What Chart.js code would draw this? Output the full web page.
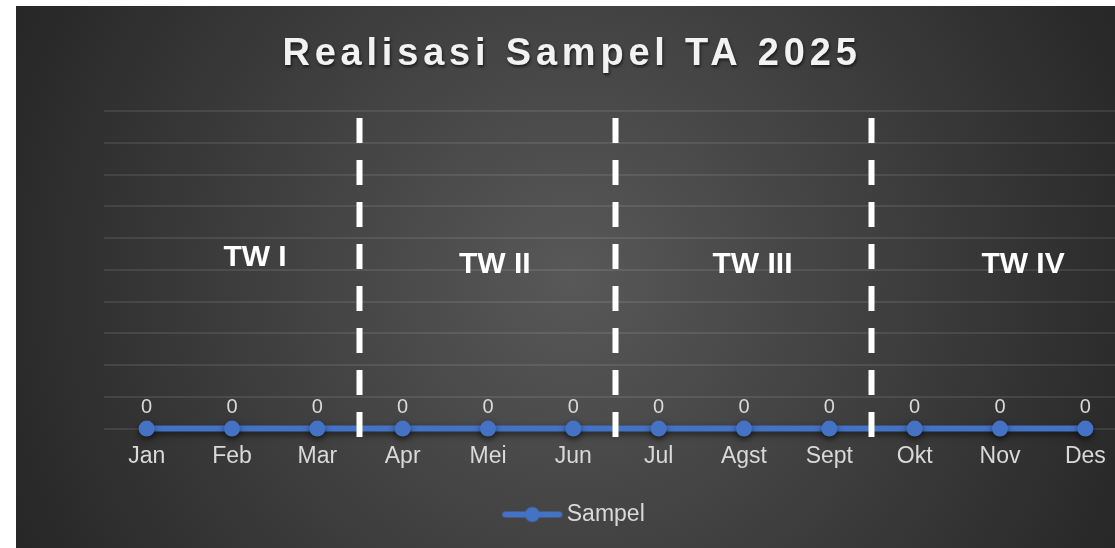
<!DOCTYPE html>
<html>
<head>
<meta charset="utf-8">
<script src="https://cdn.jsdelivr.net/npm/chart.js@4.4.1/dist/chart.umd.min.js"></script>
<style>
    html, body { margin: 0; padding: 0; background: #fff; overflow: hidden; width: 1115px; height: 548px; }
    #wrap { position: absolute; left: 16px; top: 6px; }
</style>
</head>
<body>
<div id="wrap"><canvas id="chart" width="1112" height="542"></canvas></div>
<script>
// data
const months = ['Jan', 'Feb', 'Mar', 'Apr', 'Mei', 'Jun', 'Jul', 'Agst', 'Sept', 'Okt', 'Nov', 'Des'];
const sampel = [0, 0, 0, 0, 0, 0, 0, 0, 0, 0, 0, 0];
const quarters = ['TW I', 'TW II', 'TW III', 'TW IV'];
const yMax = 10;

const lineBlue = '#4472c4';
const textGrey = '#d9d9d9';
const fontFam = '"Liberation Sans", Arial, sans-serif';

// legend marker: line with a dot in the middle
const legendMark = document.createElement('canvas');
legendMark.width = 70;
legendMark.height = 18;
(() => {
    const c = legendMark.getContext('2d');
    c.strokeStyle = lineBlue;
    c.lineWidth = 6;
    c.lineCap = 'round';
    c.beginPath();
    c.moveTo(8, 9);
    c.lineTo(62, 9);
    c.stroke();
    c.fillStyle = lineBlue;
    c.beginPath();
    c.arc(35, 9, 7.5, 0, Math.PI * 2);
    c.fill();
})();

const backdrop = {
    id: 'backdrop',
    beforeDraw(chart) {
        const { ctx, width, height } = chart;
        const cx = width / 2, cy = height / 2;
        const g = ctx.createRadialGradient(cx, cy, 0, cx, cy, 620);
        g.addColorStop(0, '#585858');
        g.addColorStop(1, '#262626');
        ctx.save();
        ctx.fillStyle = g;
        ctx.fillRect(0, 0, width, height);
        ctx.restore();
    }
};

const lineShadow = {
    id: 'lineShadow',
    beforeDatasetsDraw(chart) {
        const ctx = chart.ctx;
        ctx.save();
        ctx.shadowColor = 'rgba(0,0,0,0.55)';
        ctx.shadowBlur = 6;
        ctx.shadowOffsetY = 3;
    },
    afterDatasetsDraw(chart) {
        chart.ctx.restore();
    }
};

const extras = {
    id: 'extras',
    afterDraw(chart, args, opts) {
        const { ctx, scales: { x, y } } = chart;
        const meta = chart.getDatasetMeta(0);

        // value labels above the points
        ctx.save();
        ctx.fillStyle = textGrey;
        ctx.font = '20px ' + fontFam;
        ctx.textAlign = 'center';
        ctx.textBaseline = 'middle';
        meta.data.forEach((pt, i) => {
            ctx.fillText(String(sampel[i]), pt.x, pt.y - 21);
        });
        ctx.restore();

        // dashed quarter separators
        ctx.save();
        ctx.strokeStyle = '#ffffff';
        ctx.lineWidth = 6;
        ctx.setLineDash([25, 17]);
        const top = y.getPixelForValue(yMax) + 7;
        const bottom = y.getPixelForValue(0) + 10;
        [2.5, 5.5, 8.5].forEach(v => {
            const px = Math.round(x.getPixelForValue(v)) - 0.5;
            ctx.beginPath();
            ctx.moveTo(px, top);
            ctx.lineTo(px, bottom);
            ctx.stroke();
        });
        ctx.restore();

        // quarter names
        ctx.save();
        ctx.fillStyle = '#ffffff';
        ctx.font = 'bold 30px ' + fontFam;
        ctx.textAlign = 'center';
        ctx.textBaseline = 'alphabetic';
        quarters.forEach((q, i) => {
            ctx.fillText(q, x.getPixelForValue(opts.at[i]), y.getPixelForValue(opts.level[i]));
        });
        ctx.restore();

        // title
        ctx.save();
        ctx.fillStyle = '#f2f2f2';
        ctx.font = 'bold 38px ' + fontFam;
        ctx.textAlign = 'center';
        ctx.textBaseline = 'middle';
        ctx.letterSpacing = '4.8px';
        ctx.shadowColor = 'rgba(0,0,0,0.6)';
        ctx.shadowBlur = 3;
        ctx.shadowOffsetX = 1;
        ctx.shadowOffsetY = 2;
        ctx.fillText(opts.title, chart.width / 2, 49);
        ctx.restore();
    }
};

new Chart(document.getElementById('chart'), {
    type: 'line',
    data: {
        labels: months,
        datasets: [{
            label: 'Sampel',
            data: sampel,
            borderColor: lineBlue,
            backgroundColor: lineBlue,
            borderWidth: 6,
            pointRadius: 8,
            pointHoverRadius: 8,
            pointBackgroundColor: lineBlue,
            pointBorderWidth: 0,
            tension: 0,
            clip: false
        }]
    },
    options: {
        responsive: false,
        animation: false,
        layout: { autoPadding: false, padding: { top: 105, left: 10, right: 0, bottom: 12 } },
        scales: {
            x: {
                offset: true,
                grid: { display: false, drawTicks: false },
                border: { display: false },
                ticks: {
                    color: textGrey,
                    padding: 14.4,
                    font: { size: 23, family: fontFam }
                },
                afterFit(scale) {
                    scale.paddingLeft = 0;
                    scale.paddingRight = 0;
                }
            },
            y: {
                min: 0,
                max: yMax,
                ticks: { display: false, stepSize: 1 },
                border: { display: false },
                grid: { color: 'rgba(255,255,255,0.09)', lineWidth: 2, drawTicks: false },
                afterFit(scale) {
                    scale.width = 78;
                }
            }
        },
        plugins: {
            legend: {
                position: 'bottom',
                labels: {
                    usePointStyle: true,
                    pointStyle: legendMark,
                    pointStyleWidth: 46,
                    boxHeight: 18,
                    color: textGrey,
                    padding: 18,
                    font: { size: 23, family: fontFam }
                }
            },
            tooltip: { enabled: false },
            extras: {
                title: 'Realisasi Sampel TA 2025',
                at: [1.27, 4.08, 7.1, 10.27],
                level: [5.13, 4.9, 4.9, 4.9]
            }
        }
    },
    plugins: [backdrop, lineShadow, extras]
});
</script>
</body>
</html>
